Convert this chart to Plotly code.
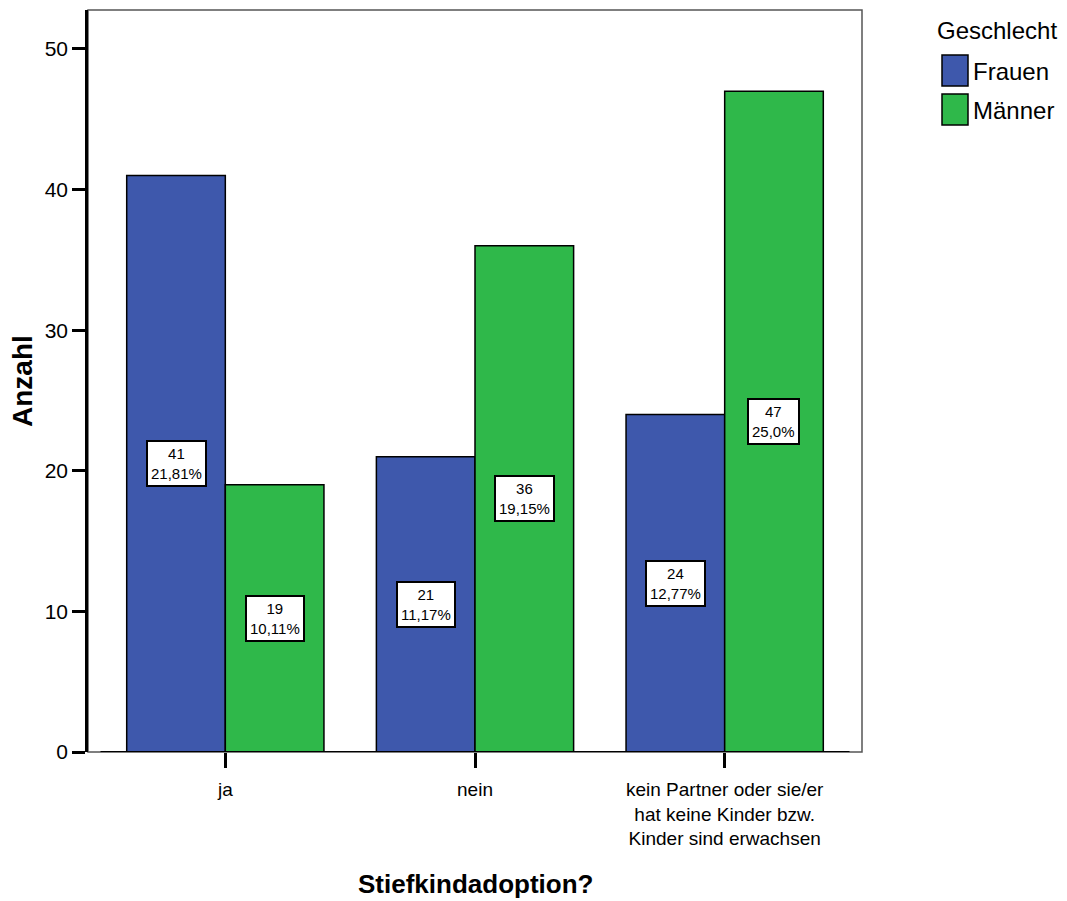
import plotly.graph_objects as go

categories = ["ja", "nein", "kein Partner oder sie/er<br>hat keine Kinder bzw.<br>Kinder sind erwachsen"]
frauen = [41, 21, 24]
maenner = [19, 36, 47]
frauen_pct = ["21,81%", "11,17%", "12,77%"]
maenner_pct = ["10,11%", "19,15%", "25,0%"]
series_names = ["Frauen", "Männer"]
colors = ["#3E58AC", "#2FB84A"]
y_ticks = [0, 10, 20, 30, 40, 50]

FONT = "Liberation Sans, Arial, sans-serif"
BAR_W = 0.395

# page coordinates of the plot area (figure is shown with an 8px page margin)
PL, PR, PT, PB = 88, 862, 10, 752
PW, PH = PR - PL, PB - PT


def px(x):
    return (x - PL) / PW


def py(y):
    return (PB - y) / PH


fig = go.Figure()
idx = list(range(len(categories)))
for name, vals, col, off in [(series_names[0], frauen, colors[0], -BAR_W),
                             (series_names[1], maenner, colors[1], 0.0)]:
    fig.add_trace(go.Bar(
        x=idx, y=vals, name=name, width=BAR_W, offset=off,
        marker=dict(color=col, line=dict(color="black", width=1.5)),
        showlegend=False, hoverinfo="y+name"))

annotations = []
for vals, pcts, off in [(frauen, frauen_pct, -BAR_W), (maenner, maenner_pct, 0.0)]:
    for i, (v, p) in enumerate(zip(vals, pcts)):
        annotations.append(dict(
            x=i + off + BAR_W / 2, y=v / 2, xref="x", yref="y",
            xanchor="center", yanchor="middle",
            text=f"{v}<br>{p}", showarrow=False,
            font=dict(family=FONT, size=15, color="black"),
            bgcolor="white", bordercolor="black", borderwidth=2, borderpad=3))

# axis titles
annotations.append(dict(x=0.5, xref="paper", y=py(884), yref="paper", text="<b>Stiefkindadoption?</b>",
                        xanchor="center", yanchor="middle", showarrow=False,
                        font=dict(family=FONT, size=26, color="black")))
annotations.append(dict(x=px(22), xref="paper", y=py(381), yref="paper",
                        text="<b>Anzahl</b>", textangle=-90, showarrow=False,
                        xanchor="center", yanchor="middle",
                        font=dict(family=FONT, size=28, color="black")))

# legend (custom, to match large swatches)
annotations.append(dict(x=px(935), xref="paper", y=py(31), yref="paper",
                        text="Geschlecht", showarrow=False, xanchor="left", yanchor="middle",
                        font=dict(family=FONT, size=24, color="black")))
shapes = []
for k, (name, col) in enumerate(zip(series_names, colors)):
    top = 55 + k * 39
    shapes.append(dict(type="rect", xref="paper", yref="paper",
                       x0=px(942), x1=px(968), y0=py(top), y1=py(top + 31),
                       fillcolor=col, line=dict(color="black", width=1.5)))
    annotations.append(dict(x=px(971), xref="paper", y=py(top + 16), yref="paper",
                            text=name, showarrow=False, xanchor="left", yanchor="middle",
                            font=dict(family=FONT, size=24, color="black")))

# frame and baseline
shapes.append(dict(type="rect", xref="paper", yref="paper", x0=0, x1=1, y0=0, y1=1,
                   line=dict(color="#555555", width=1.5), layer="below"))
shapes.append(dict(type="line", xref="x", yref="y", x0=-0.5, x1=2.5, y0=0, y1=0,
                   line=dict(color="black", width=2)))

fig.update_layout(
    width=1059, height=893,
    margin=dict(l=PL - 8, r=1067 - PR, t=PT - 8, b=901 - PB),
    paper_bgcolor="white", plot_bgcolor="white",
    font=dict(family=FONT, color="black"),
    barmode="overlay",
    annotations=annotations, shapes=shapes,
    xaxis=dict(range=[-0.55, 2.55], tickmode="array", tickvals=idx, ticktext=categories,
               ticks="outside", ticklen=15, tickwidth=2.5, tickcolor="black",
               ticklabelstandoff=5,
               showline=False, showgrid=False, zeroline=False,
               tickfont=dict(family=FONT, size=19, color="black")),
    yaxis=dict(range=[0, 52.77], tickvals=y_ticks, ticks="outside", ticklen=13, tickwidth=2.5,
               tickcolor="black", showline=True, linecolor="black", linewidth=2.5,
               showgrid=False, zeroline=False,
               tickfont=dict(family=FONT, size=21, color="black")),
)

fig.write_html("out.html")
